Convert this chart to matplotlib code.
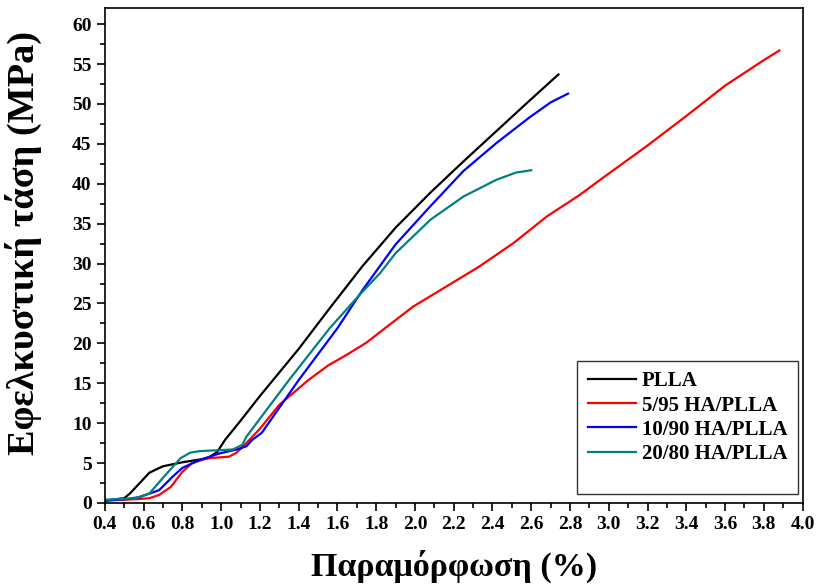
import matplotlib
matplotlib.use("Agg")
import matplotlib.pyplot as plt
from matplotlib.lines import Line2D
from matplotlib.ticker import MultipleLocator, FormatStrFormatter

# Καμπύλες τάσης - παραμόρφωσης (τιμές από το γράφημα)
pl_x = [0.40, 0.50, 0.53, 0.58, 0.63, 0.70, 0.80, 0.93, 0.98, 1.02, 1.10, 1.20,
        1.40, 1.56, 1.73, 1.90, 2.08, 2.25, 2.42, 2.59, 2.74]
pl_y = [0.3, 0.6, 1.2, 2.5, 3.8, 4.6, 5.1, 5.6, 6.4, 7.9, 10.3, 13.4,
        19.3, 24.4, 29.7, 34.5, 38.9, 42.8, 46.6, 50.4, 53.7]

r5_x = [0.40, 0.58, 0.63, 0.68, 0.74, 0.80, 0.85, 0.93, 1.04, 1.08, 1.13, 1.20,
        1.30, 1.45, 1.55, 1.65, 1.75, 1.84, 1.99, 2.16, 2.33, 2.51, 2.68, 2.85,
        2.95, 3.20, 3.40, 3.60, 3.80, 3.88]
r5_y = [0.3, 0.5, 0.6, 1.0, 2.0, 3.9, 5.0, 5.6, 5.8, 6.3, 7.5, 9.3,
        12.3, 15.4, 17.2, 18.6, 20.1, 21.8, 24.6, 27.1, 29.6, 32.6, 35.9, 38.6,
        40.4, 44.8, 48.5, 52.3, 55.5, 56.7]

r10_x = [0.40, 0.52, 0.58, 0.68, 0.75, 0.80, 0.89, 0.99, 1.08, 1.13, 1.16, 1.21,
         1.40, 1.60, 1.73, 1.90, 2.08, 2.25, 2.42, 2.59, 2.70, 2.79]
r10_y = [0.3, 0.5, 0.75, 1.6, 3.3, 4.4, 5.4, 6.2, 6.7, 7.1, 7.9, 8.8,
         15.4, 21.9, 26.7, 32.4, 37.2, 41.6, 45.1, 48.3, 50.2, 51.3]

r20_x = [0.40, 0.56, 0.63, 0.72, 0.79, 0.84, 0.89, 1.06, 1.11, 1.13, 1.35, 1.56,
         1.73, 1.82, 1.90, 2.08, 2.25, 2.42, 2.52, 2.60]
r20_y = [0.4, 0.6, 1.2, 3.7, 5.6, 6.3, 6.5, 6.7, 7.3, 8.3, 15.4, 21.9,
         26.5, 28.8, 31.3, 35.5, 38.4, 40.5, 41.4, 41.7]

labels = ["PLLA", "5/95 HA/PLLA", "10/90 HA/PLLA", "20/80 HA/PLLA"]
colors = ["black", "#ff0000", "#0000ff", "#008080"]

plt.rcParams['font.family'] = ['Liberation Serif', 'DejaVu Serif']
plt.rcParams['font.weight'] = 'bold'

fig = plt.figure(figsize=(8.19, 5.88), dpi=100)
ax = fig.add_axes([0.128, 0.1446, 0.852, 0.8414])

handles = []
for xs, ys, lab, col in zip([pl_x, r5_x, r10_x, r20_x], [pl_y, r5_y, r10_y, r20_y],
                            labels, colors):
    h, = ax.plot(xs, ys, color=col, lw=1.6, label=lab)
    handles.append(h)
# κενή γραμμή στο τέλος του υπομνήματος
handles.append(Line2D([], [], color='none'))

ax.set_xlim(0.4, 4.0)
ax.set_ylim(0, 62)
ax.xaxis.set_major_locator(MultipleLocator(0.2))
ax.xaxis.set_minor_locator(MultipleLocator(0.1))
ax.xaxis.set_major_formatter(FormatStrFormatter('%.1f'))
ax.yaxis.set_major_locator(MultipleLocator(5))
ax.yaxis.set_minor_locator(MultipleLocator(2.5))
ax.tick_params(which='major', direction='out', length=6, width=1.2, labelsize=14)
ax.tick_params(which='minor', direction='out', length=3.5, width=1.2)
for sp in ax.spines.values():
    sp.set_linewidth(1.2)

ax.set_xlabel("Παραμόρφωση (%)", fontsize=24.5, fontweight='bold')
ax.set_ylabel("Εφελκυστική τάση (MPa)", fontsize=27.5, fontweight='bold')
ax.xaxis.set_label_coords(0.5, -0.095)
ax.yaxis.set_label_coords(-0.09, 0.526)

leg = ax.legend(handles, labels + [" "], loc='upper left', bbox_to_anchor=(0.677, 0.287),
                borderaxespad=0, fontsize=15, frameon=True, fancybox=False,
                handlelength=2.3, handletextpad=0.3, borderpad=0.5,
                labelspacing=0.2)
leg.get_texts()[-1].set_fontsize(4)
leg.get_frame().set_edgecolor('#333333')
leg.get_frame().set_linewidth(1.0)
leg.get_frame().set_alpha(1)

fig.savefig("out.png", dpi=100)
